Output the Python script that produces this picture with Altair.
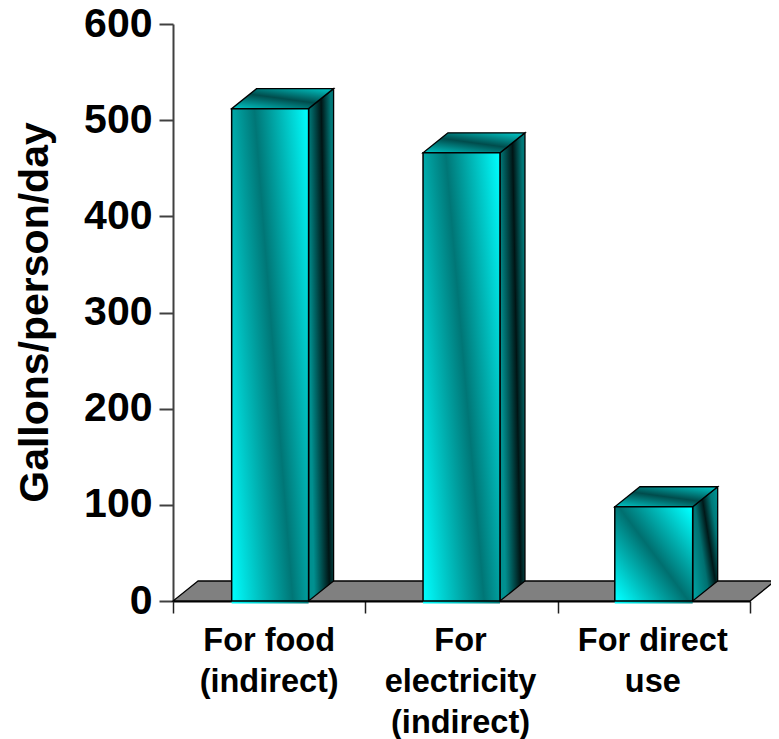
import altair as alt
import pandas as pd

categories = ["For food\n(indirect)", "For\nelectricity\n(indirect)", "For direct\nuse"]
values = [512, 466, 98]
bar_left = [0.305, 1.3, 2.297]
bar_width = [0.4, 0.4, 0.405]
y_ticks = [0, 100, 200, 300, 400, 500, 600]
x_ticks = [0, 1, 2, 3]

W, H = 577, 577
X_MAX, Y_MAX = 3, 600
DX = 25 / W * X_MAX
DY = 20 / H * Y_MAX
FONT = "Liberation Sans"
CY, DK = "#00ffff", "#007676"

xs = alt.Scale(domain=[0, X_MAX], nice=False, zero=False)
ys = alt.Scale(domain=[0, Y_MAX], nice=False, zero=False)


def grad(stops, x1, y1, x2, y2):
    return alt.LinearGradient(
        gradient="linear", x1=x1, y1=y1, x2=x2, y2=y2,
        stops=[alt.GradientStop(offset=o, color=c) for o, c in stops],
    )


front_grads = [
    grad([(0, CY), (0.53, DK), (1, CY)], 0, 1, 1.2, 0.4),
    grad([(0, CY), (0.53, DK), (1, CY)], 0, 1, 1.2, 0.4),
    grad([(0, CY), (0.5, "#006f6f"), (1, CY)], 0, 0.95, 1, 0.05),
]
tall_side = grad([(0, "#009090"), (0.62, "#001414"), (1, "#007878")], 0.118, 0.692, 1.008, 0.382)
side_grads = [
    tall_side,
    tall_side,
    grad([(0, "#00a0a0"), (0.35, "#007070"), (0.55, "#001818"), (0.75, "#007878"), (1, "#00a0a0")],
         -0.015, 0.855, 1.115, 0.045),
]
top_grad = grad([(0, "#00b8b8"), (0.5, "#004c4c"), (1, "#00bcbc")], 0.15, 1, 0.85, 0)

floor = pd.DataFrame({"y": [0, DY], "x": [0, DX], "x2": [X_MAX, X_MAX + DX]})

layers = [
    alt.Chart(floor).mark_area(orient="horizontal", fill="#808080", stroke="#000000", strokeWidth=1.3).encode(
        y=alt.Y("y:Q", scale=ys, axis=alt.Axis(
            values=y_ticks, title="Gallons/person/day", titleFont=FONT, titleFontSize=41,
            titleFontWeight="bold", titleColor="#000", titleX=-117, titleY=288, labelFont=FONT,
            labelFontSize=41, labelFontWeight="bold", labelColor="#000", labelPadding=7,
            tickSize=14, tickWidth=2, tickColor="#404040", domainColor="#404040", domainWidth=2, grid=False)),
        x=alt.X("x:Q", scale=xs, axis=alt.Axis(
            values=x_ticks, labels=False, title=None, tickSize=12, tickWidth=1.5,
            tickColor="#202020", domainColor="#000000", domainWidth=2, grid=False)),
        x2="x2:Q",
    )
]

for left, w, v, fg, sg in zip(bar_left, bar_width, values, front_grads, side_grads):
    right = left + w
    strip = pd.DataFrame({"x": [left], "x2": [right], "y": [-2.5], "y2": [0]})
    front = pd.DataFrame({"x": [left], "x2": [right], "y": [0], "y2": [v]})
    side = pd.DataFrame({"x": [right, right + DX], "y": [v, v + DY], "y2": [0, DY]})
    top = pd.DataFrame({"y": [v, v + DY], "x": [left, left + DX], "x2": [right, right + DX]})
    layers += [
        alt.Chart(strip).mark_rect(fill=grad([(0, CY), (1, DK)], 0, 0, 1, 0)).encode(
            x=alt.X("x:Q", scale=xs), x2="x2:Q", y=alt.Y("y:Q", scale=ys), y2="y2:Q"),
        alt.Chart(side).mark_area(fill=sg, stroke="#000000", strokeWidth=1.3).encode(
            x=alt.X("x:Q", scale=xs), y=alt.Y("y:Q", scale=ys), y2="y2:Q"),
        alt.Chart(top).mark_area(orient="horizontal", fill=top_grad, stroke="#000000", strokeWidth=1.3).encode(
            y=alt.Y("y:Q", scale=ys), x=alt.X("x:Q", scale=xs), x2="x2:Q"),
        alt.Chart(front).mark_rect(fill=fg, stroke="#000000", strokeWidth=1.5).encode(
            x=alt.X("x:Q", scale=xs), x2="x2:Q", y=alt.Y("y:Q", scale=ys), y2="y2:Q"),
    ]

labels = pd.DataFrame({"x": [l + w / 2 - 0.005 for l, w in zip(bar_left, bar_width)], "label": categories})
layers.append(
    alt.Chart(labels).mark_text(
        font=FONT, fontSize=32.5, fontWeight="bold", color="#000", baseline="top",
        align="center", lineBreak="\n", lineHeight=41,
    ).encode(x=alt.X("x:Q", scale=xs), y=alt.value(601), text="label:N")
)

chart = alt.layer(*layers).properties(
    width=W, height=H,
    autosize=alt.AutoSizeParams(type="none"),
    padding={"left": 165, "top": 16, "right": 21, "bottom": 138},
).configure_view(stroke=None)

chart.save("out.html", embed_options={"renderer": "svg", "actions": False})
